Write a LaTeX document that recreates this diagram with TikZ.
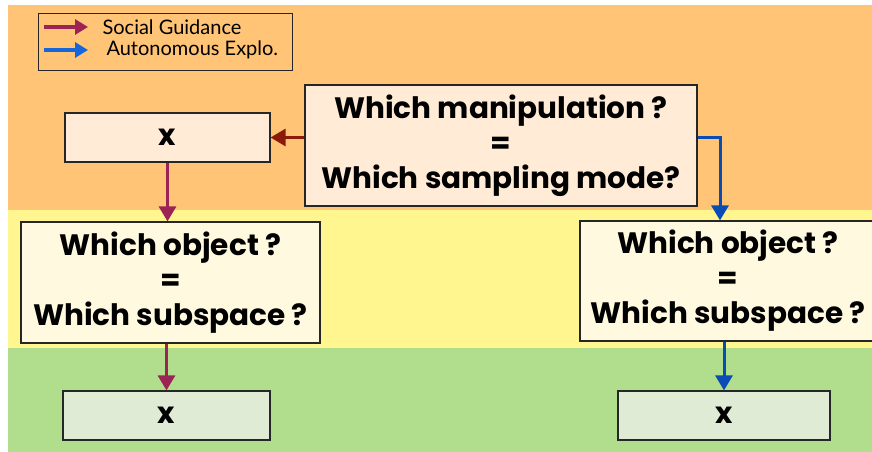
\documentclass[tikz,border=0pt]{standalone}
\usepackage{fontspec}
\setmainfont{Lato}
\newfontfamily\boxfont{Poppins}
\usetikzlibrary{arrows.meta}
\definecolor{bandorange}{HTML}{FFC476}
\definecolor{bandyellow}{HTML}{FFF690}
\definecolor{bandgreen}{HTML}{B1DE8C}
\definecolor{fillpeach}{HTML}{FFEBD6}
\definecolor{fillcream}{HTML}{FFFADF}
\definecolor{fillsage}{HTML}{E0EBD5}
\definecolor{socialred}{HTML}{9C2454}
\definecolor{darkred}{HTML}{8B1A08}
\definecolor{autoblue}{HTML}{0A4BB5}
\definecolor{legendblue}{HTML}{1466DA}
\begin{document}
\begin{tikzpicture}
[x=1pt,y=-1pt,
  boxdecorate/.style={shape=rectangle,draw=black!85,line width=1.2pt,inner sep=0pt,
    align=center,font=\boxfont\bfseries\fontsize{29.5}{35}\selectfont},
  linedecorate/.style={line width=3pt,-{Triangle[length=15pt,width=17pt]}},
  legendline/.style={line width=3.5pt,-{Triangle[length=13pt,width=15pt]}}]
\useasboundingbox (0,0) rectangle (872,452);
%% background bands
\fill[bandorange] (8,5) rectangle (872,210);
\fill[bandyellow] (8,210) rectangle (872,348);
\fill[bandgreen] (8,348) rectangle (872,452);
%% legend
\node (legend) at (165,42) [draw=black!85,line width=1pt,minimum width=254pt,minimum height=56pt] {};
\coordinate (socialfrom) at (44,27);
\coordinate (socialto) at (88,27);
\coordinate (autofrom) at (44,50);
\coordinate (autoto) at (88,50);
\node (sociallabel) at (99,27) [anchor=west,font=\fontsize{20}{22}\selectfont] {Social Guidance};
\node (autolabel) at (103,50) [anchor=west,font=\fontsize{20}{22}\selectfont] {Autonomous Explo.};
\draw[legendline,socialred] (socialfrom) -- (socialto);
\draw[legendline,legendblue] (autofrom) -- (autoto);
%% question boxes
\node (manip) at (501,145.5) [boxdecorate,fill=fillpeach,minimum width=392pt,minimum height=121pt]
  {Which manipulation ?\\=\\Which sampling mode?};
\node (objleft) at (170.5,282.5) [boxdecorate,fill=fillcream,minimum width=299pt,minimum height=121pt]
  {Which object ?\\=\\Which subspace ?};
\node (objright) at (728,281) [boxdecorate,fill=fillcream,minimum width=296pt,minimum height=120pt]
  {Which object ?\\=\\Which subspace ?};
%% x boxes
\foreach \nodename/\x/\y/\w/\c in {xtop/167.5/137.5/205/fillpeach,
  xbotleft/166.5/415.5/207/fillsage, xbotright/724/415.5/212/fillsage} {
  \node (\nodename) at (\x,\y) [boxdecorate,fill=\c,minimum width=\w pt,minimum height=49pt] {x};
}
%% connectors
\draw[linedecorate,darkred] (xtop.east -| manip.west) -- (xtop.east);
\draw[linedecorate,socialred] (xtop.south) -- (xtop.south |- objleft.north);
\draw[linedecorate,socialred] (xbotleft.north |- objleft.south) -- (xbotleft.north);
\draw[linedecorate,autoblue] (xtop.east -| manip.east) -| ([xshift=-8pt]objright.north);
\draw[linedecorate,autoblue] (xbotright.north |- objright.south) -- (xbotright.north);
\end{tikzpicture}
\end{document}
